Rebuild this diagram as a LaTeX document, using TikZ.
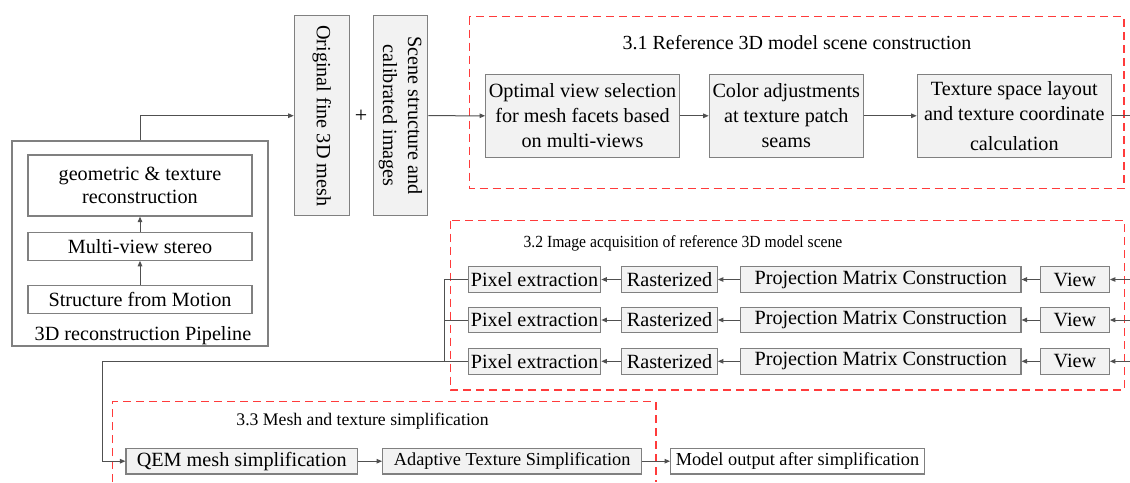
\documentclass[tikz,border=0pt]{standalone}
\usepackage{fontspec}
\setmainfont{Liberation Serif}
\usetikzlibrary{arrows.meta}
\definecolor{boxline}{HTML}{808080}
\definecolor{boxfill}{HTML}{F2F2F2}
\definecolor{wiregray}{HTML}{505050}
\definecolor{framered}{HTML}{FF3B3B}
\begin{document}
\begin{tikzpicture}[x=1pt,y=-1pt,
  base/.style={draw=boxline,line width=1.2pt,inner sep=0pt,align=center,
               font=\fontsize{20.2}{25}\selectfont},
  gbox/.style={base,fill=boxfill},
  wbox/.style={base,fill=white},
  smalltext/.style={font=\fontsize{18.3}{22}\selectfont},
  wire/.style={draw=wiregray,line width=1pt},
  link/.style={wire,-{Triangle[length=5.5pt,width=4.5pt]}},
  redframe/.style={draw=framered,line width=1.4pt,dash pattern=on 8pt off 5pt},
  heading/.style={inner sep=0pt}]
\useasboundingbox (0,0) rectangle (1130,482);
\fill[white] (0,0) rectangle (1130,482);

% ---------- 3D reconstruction pipeline ----------
\node[wbox,minimum width=256,minimum height=205] (pipe) at (140,243.5) {};
\node[heading,anchor=base,font=\fontsize{20.2}{25}\selectfont] (pipelabel) at (143,340) {3D reconstruction Pipeline};
\node[wbox,minimum width=224,minimum height=61,font=\fontsize{20.2}{22.5}\selectfont] (geo) at (140,185.5) {geometric \& texture\\reconstruction};
\node[wbox,minimum width=224,minimum height=28] (mvs) at (140,246.2) {Multi-view stereo};
\node[wbox,minimum width=224,minimum height=28] (sfm) at (140,299.2) {Structure from Motion};
\draw[link] (sfm.north) -- (mvs.south);
\draw[link] (mvs.north) -- (geo.south);

% ---------- inputs ----------
\node[gbox,minimum width=55,minimum height=200] (orig) at (321.8,115.7)
  {\rotatebox{-90}{Original fine 3D mesh}};
\node[font=\fontsize{22}{22}\selectfont,inner sep=0pt] (plus) at (361,116) {+};
\node[gbox,minimum width=54.4,minimum height=200] (scene) at (400.5,115.7)
  {\rotatebox{-90}{\begin{tabular}{@{}c@{}}Scene structure and\\calibrated images\end{tabular}}};
\draw[link] (pipe.north) |- (orig.west);

% ---------- 3.1 ----------
\draw[redframe] (469.3,16.7) rectangle (1124,188.3);
\node[heading,font=\fontsize{20}{24}\selectfont] (t31) at (797,43) {3.1 Reference 3D model scene construction};
\node[gbox,minimum width=193.6,minimum height=83] (opt) at (582.5,115.8)
  {Optimal view selection\\for mesh facets based\\on multi-views};
\node[gbox,minimum width=154,minimum height=83] (colr) at (786.3,115.8)
  {Color adjustments\\at texture patch\\seams};
\node[gbox,minimum width=194,minimum height=83] (texl) at (1014.3,115.8)
  {Texture space layout\\and texture coordinate\\[5pt]calculation};
\coordinate (texout) at (1130,115.8);
\draw[link] (scene.east) -- (opt.west);
\draw[link] (opt.east) -- (colr.west);
\draw[link] (colr.east) -- (texl.west);
\draw[wire] (texl.east) -- (texout);

% ---------- 3.2 ----------
\draw[redframe] (450.7,220.7) rectangle (1124.3,390);
\node[heading,font=\fontsize{17}{20}\selectfont] (t32) at (683,243)
  {\scalebox{0.92}[1]{3.2 Image acquisition of reference 3D model scene}};
\foreach \r/\y in {1/279.5,2/320,3/361.3}{
  \node[gbox,minimum width=132.4,minimum height=25.6] (pix\r) at (534.5,\y) {Pixel extraction};
  \node[gbox,minimum width=95.6,minimum height=25.6] (ras\r) at (669.5,\y) {Rasterized};
  \node[gbox,minimum width=280.3,minimum height=25.6] (proj\r) at (880.8,\y) {Projection Matrix Construction};
  \node[gbox,minimum width=68.6,minimum height=25.6] (view\r) at (1075,\y) {View};
  \coordinate (in\r) at (1130,\y);
  \coordinate (bus\r) at (444,\y);
  \draw[link] (in\r) -- (view\r.east);
  \draw[link] (view\r.west) -- (proj\r.east);
  \draw[link] (proj\r.west) -- (ras\r.east);
  \draw[link] (ras\r.west) -- (pix\r.east);
}
\draw[wire] (pix1.west) -- (bus1) -- (bus3);
\draw[wire] (pix2.west) -- (bus2);

% ---------- 3.3 ----------
\draw[redframe] (112.7,482) -- (112.7,401.7) -- (656,401.7) -- (656,482);
\node[heading,font=\fontsize{17.7}{21}\selectfont] (t33) at (362.5,421) {3.3 Mesh and texture simplification};
\node[gbox,minimum width=231.3,minimum height=25.7] (qem) at (241.7,461.2) {QEM mesh simplification};
\node[gbox,smalltext,minimum width=259,minimum height=25.7] (ada) at (512.2,461.2) {Adaptive Texture Simplification};
\node[wbox,smalltext,minimum width=253.6,minimum height=25.7] (outm) at (797.5,461.2) {Model output after simplification};
\coordinate (turnA) at (102.5,361.3);
\coordinate (turnB) at (102.5,461.2);
\draw[link] (pix3.west) -- (turnA) -- (turnB) -- (qem.west);
\draw[link] (qem.east) -- (ada.west);
\draw[link] (ada.east) -- (outm.west);
\end{tikzpicture}
\end{document}
